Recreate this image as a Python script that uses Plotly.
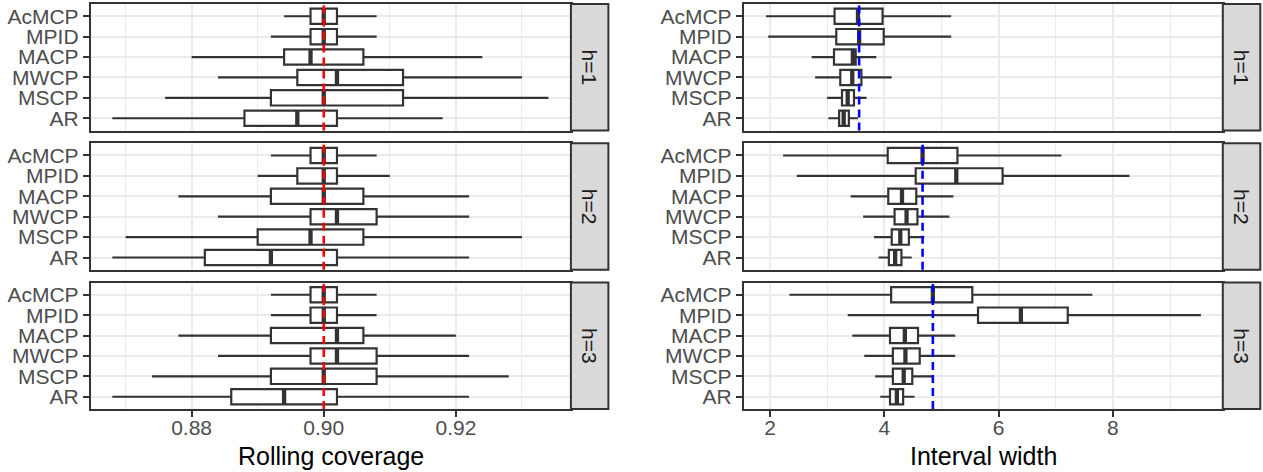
import plotly.graph_objects as go

# ---------------- data ----------------
methods = ["AcMCP", "MPID", "MACP", "MWCP", "MSCP", "AR"]
horizons = ["h=1", "h=2", "h=3"]

# Rolling coverage (rows: h=1, h=2, h=3; columns follow `methods`)
cov_lower = [[0.894, 0.892, 0.880, 0.884, 0.876, 0.868],
             [0.892, 0.890, 0.878, 0.884, 0.870, 0.868],
             [0.892, 0.892, 0.878, 0.884, 0.874, 0.868]]
cov_q1 = [[0.898, 0.898, 0.894, 0.896, 0.892, 0.888],
          [0.898, 0.896, 0.892, 0.898, 0.890, 0.882],
          [0.898, 0.898, 0.892, 0.898, 0.892, 0.886]]
cov_median = [[0.900, 0.900, 0.898, 0.902, 0.900, 0.896],
              [0.900, 0.900, 0.900, 0.902, 0.898, 0.892],
              [0.900, 0.900, 0.902, 0.902, 0.900, 0.894]]
cov_q3 = [[0.902, 0.902, 0.906, 0.912, 0.912, 0.902],
          [0.902, 0.902, 0.906, 0.908, 0.906, 0.902],
          [0.902, 0.902, 0.906, 0.908, 0.908, 0.902]]
cov_upper = [[0.908, 0.908, 0.924, 0.930, 0.934, 0.918],
             [0.908, 0.910, 0.922, 0.922, 0.930, 0.922],
             [0.908, 0.908, 0.920, 0.922, 0.928, 0.922]]
cov_target = [0.90, 0.90, 0.90]

# Interval width
wid_lower = [[1.93, 1.97, 2.73, 2.79, 3.00, 3.02],
             [2.23, 2.47, 3.41, 3.63, 3.82, 3.90],
             [2.34, 3.36, 3.44, 3.65, 3.84, 3.93]]
wid_q1 = [[3.13, 3.16, 3.12, 3.23, 3.26, 3.21],
          [4.06, 4.55, 4.07, 4.18, 4.13, 4.08],
          [4.12, 5.64, 4.10, 4.15, 4.15, 4.10]]
wid_median = [[3.54, 3.56, 3.45, 3.44, 3.36, 3.29],
              [4.67, 5.26, 4.31, 4.39, 4.28, 4.19],
              [4.85, 6.39, 4.36, 4.37, 4.34, 4.22]]
wid_q3 = [[3.97, 3.99, 3.50, 3.60, 3.47, 3.38],
          [5.28, 6.07, 4.56, 4.58, 4.43, 4.30],
          [5.54, 7.21, 4.59, 4.62, 4.49, 4.33]]
wid_upper = [[5.17, 5.17, 3.86, 4.13, 3.69, 3.54],
             [7.10, 8.29, 5.21, 5.14, 4.70, 4.48],
             [7.64, 9.54, 5.24, 5.24, 4.86, 4.53]]
wid_reference = [3.56, 4.67, 4.85]

cov_ticks = [0.88, 0.90, 0.92]
cov_ticktext = ["0.88", "0.90", "0.92"]
cov_minor = [0.87, 0.89, 0.91, 0.93]
wid_ticks = [2, 4, 6, 8]
wid_ticktext = ["2", "4", "6", "8"]
wid_minor = [3, 5, 7, 9]

# ---------------- layout geometry (pixels) ----------------
W, H = 1263, 472
FONT = "Liberation Sans, Arial, sans-serif"
TICK_SIZE = 21
TITLE_SIZE = 25
row_tops = [4.0, 143.25, 282.5]
row_h = 126.5
col_panels = [(90.8, 570.9), (743.8, 1222.8)]
strip_w = 37.5
col_ranges = [[0.864745, 0.937405], [1.542, 9.923]]
line_col = "#333333"
grid_col = "#EBEBEB"

def xd(a, b):
    return [a / W, b / W]

def yd(top, bottom):
    return [1 - bottom / H, 1 - top / H]

positions = [6, 5, 4, 3, 2, 1]  # AcMCP at top

cols = [
    dict(lo=cov_lower, q1=cov_q1, med=cov_median, q3=cov_q3, hi=cov_upper,
         ref=cov_target, refcol="#FF0000", ticks=cov_ticks, ticktext=cov_ticktext,
         minor=cov_minor, title="Rolling coverage"),
    dict(lo=wid_lower, q1=wid_q1, med=wid_median, q3=wid_q3, hi=wid_upper,
         ref=wid_reference, refcol="#0000FF", ticks=wid_ticks, ticktext=wid_ticktext,
         minor=wid_minor, title="Interval width"),
]

fig = go.Figure()
shapes = []
annotations = []
layout_axes = {}

for c, spec in enumerate(cols):
    px0, px1 = col_panels[c]
    for r in range(3):
        idx = c * 3 + r + 1
        sfx = "" if idx == 1 else str(idx)
        xa, ya = f"x{sfx}", f"y{sfx}"
        top = row_tops[r]
        bottom = top + row_h

        fig.add_trace(go.Box(
            y=positions, q1=spec["q1"][r], median=spec["med"][r], q3=spec["q3"][r],
            lowerfence=spec["lo"][r], upperfence=spec["hi"][r],
            orientation="h", xaxis=xa, yaxis=ya,
            fillcolor="white", line=dict(color=line_col, width=2.2),
            whiskerwidth=0, width=0.75, boxpoints=False, showlegend=False,
        ))
        # thicker median line (ggplot style)
        mx, my = [], []
        for p, m in zip(positions, spec["med"][r]):
            mx += [m, m, None]
            my += [p - 0.375, p + 0.375, None]
        fig.add_trace(go.Scatter(x=mx, y=my, mode="lines", xaxis=xa, yaxis=ya,
                                 line=dict(color=line_col, width=4.3),
                                 showlegend=False, hoverinfo="skip"))

        bottom_row = (r == 2)
        layout_axes[f"xaxis{sfx}"] = dict(
            domain=xd(px0, px1), anchor=ya, range=col_ranges[c],
            tickmode="array", tickvals=spec["ticks"], ticktext=spec["ticktext"],
            showticklabels=bottom_row, ticks="outside" if bottom_row else "",
            ticklen=6, tickwidth=2, tickcolor=line_col, ticklabelstandoff=-7,
            tickfont=dict(family=FONT, size=TICK_SIZE, color="#4D4D4D"),
            showgrid=True, gridcolor=grid_col, gridwidth=2,
            minor=dict(tickmode="array", tickvals=spec["minor"], showgrid=True,
                       gridcolor=grid_col, gridwidth=1, ticks=""),
            showline=True, linecolor=line_col, linewidth=2, mirror=True,
            zeroline=False, fixedrange=True,
        )
        layout_axes[f"yaxis{sfx}"] = dict(
            domain=yd(top, bottom), anchor=xa, range=[0.4, 6.6],
            tickmode="array", tickvals=positions, ticktext=methods,
            ticks="outside", ticklen=6, tickwidth=2, tickcolor=line_col,
            tickfont=dict(family=FONT, size=TICK_SIZE, color="#4D4D4D"),
            showgrid=True, gridcolor=grid_col, gridwidth=2,
            showline=True, linecolor=line_col, linewidth=2, mirror=True,
            zeroline=False, fixedrange=True,
        )

        # reference dashed line
        shapes.append(dict(type="line", xref=xa, yref=f"{ya} domain",
                           x0=spec["ref"][r], x1=spec["ref"][r], y0=0, y1=1,
                           line=dict(color=spec["refcol"], width=2.6, dash="8px,5px"),
                           layer="above"))
        # strip
        shapes.append(dict(type="rect", xref="paper", yref="paper",
                           x0=px1 / W, x1=(px1 + strip_w) / W,
                           y0=1 - bottom / H, y1=1 - top / H,
                           fillcolor="#D9D9D9", line=dict(color=line_col, width=2),
                           layer="above"))
        annotations.append(dict(text=horizons[r], xref="paper", yref="paper",
                                x=(px1 + strip_w / 2) / W, y=1 - (top + row_h / 2) / H,
                                showarrow=False, textangle=90,
                                font=dict(family=FONT, size=TICK_SIZE, color="#1A1A1A"),
                                xanchor="center", yanchor="middle"))

    annotations.append(dict(text=spec["title"], xref="paper", yref="paper",
                            x=(px0 + px1) / 2 / W, y=1 - 455.5 / H,
                            showarrow=False, xanchor="center", yanchor="middle",
                            font=dict(family=FONT, size=TITLE_SIZE, color="#000000")))

fig.update_layout(
    width=W, height=H, margin=dict(l=0, r=0, t=0, b=0),
    paper_bgcolor="white", plot_bgcolor="white",
    shapes=shapes, annotations=annotations, showlegend=False,
    font=dict(family=FONT),
    **layout_axes,
)

fig.write_html(
    "out.html",
    config={"displayModeBar": False},
    post_script="document.body.style.margin='0px';document.body.style.overflow='hidden';",
)
